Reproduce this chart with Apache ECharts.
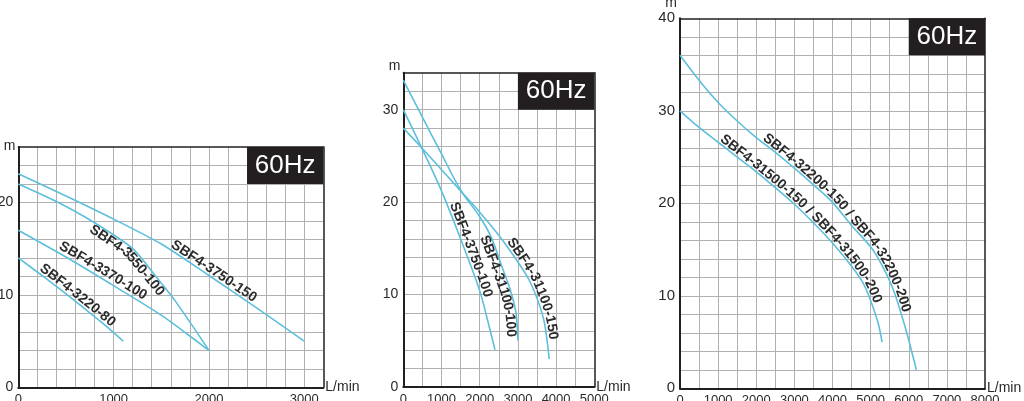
<!DOCTYPE html>
<html><head><meta charset="utf-8">
<script src="https://cdn.jsdelivr.net/npm/echarts@6/dist/echarts.min.js"></script>
<style>html,body{margin:0;padding:0;background:#fff;}#c{width:1024px;height:401px;}</style>
</head><body><div id="c"></div>
<script>
// ---------- data (flow L/min, head m) ----------
const names1 = ['SBF4-3220-80', 'SBF4-3370-100', 'SBF4-3550-100', 'SBF4-3750-150'];
const c1_3220_80  = [[0,14],[300,11.7],[600,9.3],[900,6.8],[1100,5]];
const c1_3370_100 = [[0,17],[500,14.1],[1000,11.0],[1500,7.8],[2000,4]];
const c1_3550_100 = [[0,22],[400,20.1],[800,17.8],[1200,15.0],[1450,11.9],[1650,9.3],[2000,4]];
const c1_3750_150 = [[0,23.1],[500,20.7],[1000,18.2],[1500,15.5],[2000,12.1],[2500,8.6],[3000,5]];

const names2 = ['SBF4-3750-100', 'SBF4-31100-100', 'SBF4-31100-150'];
const c2_3750_100  = [[0,30],[500,25.7],[1000,21.2],[1500,16],[2000,10.4],[2200,7.3],[2400,4]];
const c2_31100_100 = [[0,33.2],[500,29.2],[1000,25.2],[1500,21.3],[2000,18.4],[2300,16.2],[2600,12.8],[2800,10.5],[2950,8],[3000,5]];
const c2_31100_150 = [[0,28],[500,25.8],[1000,23.5],[1500,21.2],[2000,18.9],[2500,16.4],[3000,13.5],[3300,11.5],[3550,9],[3700,6.8],[3820,3]];

const names3 = ['SBF4-31500-150 / SBF4-31500-200', 'SBF4-32200-150 / SBF4-32200-200'];
const c3_31500 = [[0,30],[500,28.2],[1000,26.6],[1500,25.0],[2000,23.4],[2500,21.7],[3000,19.9],[3500,17.9],[4000,15.7],[4500,13.2],[4800,11.4],[5000,9.5],[5200,7],[5300,5]];
const c3_32200 = [[0,36],[500,33.3],[1000,30.9],[1500,28.9],[2000,27.1],[2500,25.5],[3000,23.8],[3500,22],[4000,20.1],[4500,17.6],[5000,15.3],[5300,13.3],[5600,10.6],[5900,6.7],[6200,2]];

const xTicks1 = [0,1000,2000,3000];
const xTicks2 = [0,1000,2000,3000,4000,5000];
const xTicks3 = [0,1000,2000,3000,4000,5000,6000,7000,8000];
const yTicks1 = [0,10,20];
const yTicks2 = [0,10,20,30];
const yTicks3 = [0,10,20,30,40];
const freqText = '60Hz';
const xUnit = 'L/min';
const yUnit = 'm';

// ---------- style ----------
const LINE_COLOR = '#5cbfdc';
const FRAME = '#231f20';
const GRIDC = '#b0b0b0';
const FF = '"Liberation Sans", Arial, sans-serif';

const axesCfg = [
  {grid:{left:18.3, top:147, width:305, height:240.3}, xmax:3200, xint:200, ymax:26, yint:2, xt:xTicks1, yt:yTicks1, mGap:1, yfs:14},
  {grid:{left:403.3, top:72.7, width:191, height:314}, xmax:5000, xint:500, ymax:34, yint:2, xt:xTicks2, yt:yTicks2, mGap:6.5, yfs:14},
  {grid:{left:680, top:18.3, width:305, height:370}, xmax:8000, xint:500, ymax:40, yint:2, xt:xTicks3, yt:yTicks3, mGap:15.5, yfs:15}
];

const grids = [], xAxes = [], yAxes = [];
axesCfg.forEach((c, i) => {
  grids.push(Object.assign({containLabel:false, outerBoundsMode:'none'}, c.grid));
  xAxes.push({
    type:'value', gridIndex:i, min:0, max:c.xmax, interval:c.xint,
    axisLine:{show:true, onZero:false, lineStyle:{color:FRAME, width:2}},
    axisTick:{show:false},
    splitLine:{show:true, showMinLine:false, showMaxLine:false, lineStyle:{color:GRIDC, width:1}},
    axisLabel:{color:'#2a2a2a', fontSize:13, fontFamily:FF, margin:6,
      formatter: v => c.xt.indexOf(v) >= 0 ? String(v) : ''},
    name:xUnit, nameLocation:'end', nameGap:2, nameMoveOverlap:false,
    nameTextStyle:{color:'#2a2a2a', fontSize:14, fontFamily:FF, align:'left', verticalAlign:'middle', padding:[0,0,6,0]}
  });
  yAxes.push({
    type:'value', gridIndex:i, min:0, max:c.ymax, interval:c.yint,
    axisLine:{show:true, onZero:false, lineStyle:{color:FRAME, width:2}},
    axisTick:{show:false},
    splitLine:{show:true, showMinLine:false, showMaxLine:false, lineStyle:{color:GRIDC, width:1}},
    axisLabel:{color:'#2a2a2a', fontSize:c.yfs, fontFamily:FF, margin:5,
      formatter: v => c.yt.indexOf(v) >= 0 ? String(v) : ''},
    name:yUnit, nameLocation:'end', nameGap:c.mGap, nameMoveOverlap:false,
    nameTextStyle:{color:'#2a2a2a', fontSize:14, fontFamily:FF, align:'right', verticalAlign:'middle', padding:[0,3,0,0]}
  });
});
// top/right frame lines
axesCfg.forEach((c, i) => {
  xAxes.push({type:'value', gridIndex:i, position:'top', min:0, max:c.xmax, interval:c.xint,
    axisLine:{show:true, onZero:false, lineStyle:{color:FRAME, width:1.5}}, axisTick:{show:false}, axisLabel:{show:false}, splitLine:{show:false}});
  yAxes.push({type:'value', gridIndex:i, position:'right', min:0, max:c.ymax, interval:c.yint,
    axisLine:{show:true, onZero:false, lineStyle:{color:FRAME, width:1.5}}, axisTick:{show:false}, axisLabel:{show:false}, splitLine:{show:false}});
});

function boxMark(c) {
  return {
    silent:true,
    itemStyle:{color:FRAME, opacity:1, borderWidth:0},
    label:{show:true, position:'inside', formatter:freqText, color:'#fff', fontSize:26, fontFamily:FF},
    data:[[{xAxis:c.xmax - 4*c.xint, yAxis:c.ymax - 2*c.yint}, {xAxis:c.xmax, yAxis:c.ymax}]]
  };
}

const seriesDefs = [
  {gi:0, name:names1[0], data:c1_3220_80, smooth:0.2},
  {gi:0, name:names1[1], data:c1_3370_100, smooth:0.2},
  {gi:0, name:names1[2], data:c1_3550_100, smooth:0.25},
  {gi:0, name:names1[3], data:c1_3750_150, smooth:0.25},
  {gi:1, name:names2[0], data:c2_3750_100, smooth:0.3},
  {gi:1, name:names2[1], data:c2_31100_100, smooth:0.3},
  {gi:1, name:names2[2], data:c2_31100_150, smooth:0.3},
  {gi:2, name:names3[0], data:c3_31500, smooth:0.3},
  {gi:2, name:names3[1], data:c3_32200, smooth:0.3}
];
const marked = {};
const series = seriesDefs.map(d => {
  const s = {
    type:'line', name:d.name, xAxisIndex:d.gi, yAxisIndex:d.gi, data:d.data,
    symbol:'none', smooth:d.smooth, lineStyle:{color:LINE_COLOR, width:1.6}, z:5
  };
  if (!marked[d.gi]) { marked[d.gi] = true; s.markArea = boxMark(axesCfg[d.gi]); }
  return s;
});

const chart = echarts.init(document.getElementById('c'), null, {renderer:'canvas'});
chart.setOption({animation:false, backgroundColor:'#fff', grid:grids, xAxis:xAxes, yAxis:yAxes, series:series});

// ---------- labels along the curves ----------
const LBL_FONT = 'bold 14px "Liberation Sans", Arial, sans-serif';
const ctx = document.createElement('canvas').getContext('2d');
ctx.font = LBL_FONT;

function buildPath(gi, pts) {
  const out = []; let s = 0, prev = null;
  for (let i = 0; i < pts.length - 1; i++) {
    for (let k = 0; k < 20; k++) {
      const t = k / 20;
      const p = [pts[i][0] + (pts[i+1][0]-pts[i][0])*t, pts[i][1] + (pts[i+1][1]-pts[i][1])*t];
      const q = chart.convertToPixel({gridIndex:gi}, p);
      if (prev) s += Math.hypot(q[0]-prev[0], q[1]-prev[1]);
      out.push({x:q[0], y:q[1], s:s}); prev = q;
    }
  }
  const q = chart.convertToPixel({gridIndex:gi}, pts[pts.length-1]);
  s += Math.hypot(q[0]-prev[0], q[1]-prev[1]);
  out.push({x:q[0], y:q[1], s:s});
  return out;
}
function pointAt(path, s) {
  if (s <= path[0].s) return {x:path[0].x, y:path[0].y};
  for (let i = 1; i < path.length; i++) {
    if (path[i].s >= s) {
      const a = path[i-1], b = path[i];
      const t = (s - a.s) / ((b.s - a.s) || 1);
      return {x:a.x + (b.x-a.x)*t, y:a.y + (b.y-a.y)*t};
    }
  }
  const l = path[path.length-1]; return {x:l.x, y:l.y};
}
function sAtDataX(gi, path, dx) {
  const px = chart.convertToPixel({gridIndex:gi}, [dx, 0])[0];
  for (let i = 1; i < path.length; i++) {
    if (path[i].x >= px) {
      const a = path[i-1], b = path[i];
      const t = (px - a.x) / ((b.x - a.x) || 1);
      return a.s + (b.s - a.s)*t;
    }
  }
  return path[path.length-1].s;
}
const labelDefs = [
  {gi:0, text:names1[3], pts:c1_3750_150, startX:1580, off:-6.5},
  {gi:0, text:names1[2], pts:c1_3550_100, startX:800, off:6.5},
  {gi:0, text:names1[1], pts:c1_3370_100, startX:400, off:-7.5},
  {gi:0, text:names1[0], pts:c1_3220_80, startX:200, off:-6.5},
  {gi:1, text:names2[0], pts:c2_3750_100, startX:1150, off:-6.5},
  {gi:1, text:names2[1], pts:c2_31100_100, startX:2250, off:6.5},
  {gi:1, text:names2[2], pts:c2_31100_150, startX:2650, off:-6.5},
  {gi:2, text:names3[0], pts:c3_31500, startX:1000, off:-6},
  {gi:2, text:names3[1], pts:c3_32200, startX:2120, off:-6}
];
const graphics = [];
labelDefs.forEach(L => {
  const path = buildPath(L.gi, L.pts);
  let s = sAtDataX(L.gi, path, L.startX);
  for (const ch of L.text) {
    const w = ctx.measureText(ch).width;
    const sc = s + w/2;
    const p = pointAt(path, sc);
    const p1 = pointAt(path, sc - 7), p2 = pointAt(path, sc + 7);
    const th = Math.atan2(p2.y - p1.y, p2.x - p1.x);
    const cx = p.x - Math.sin(th)*L.off, cy = p.y + Math.cos(th)*L.off;
    if (ch !== ' ') {
      graphics.push({type:'text', x:cx, y:cy, rotation:-th, silent:true, z:100,
        style:{text:ch, font:LBL_FONT, fill:'#2b2b2b', textAlign:'center', textVerticalAlign:'middle', align:'center', verticalAlign:'middle'}});
    }
    s += w;
  }
});
chart.setOption({graphic:graphics});
</script>
</body></html>
